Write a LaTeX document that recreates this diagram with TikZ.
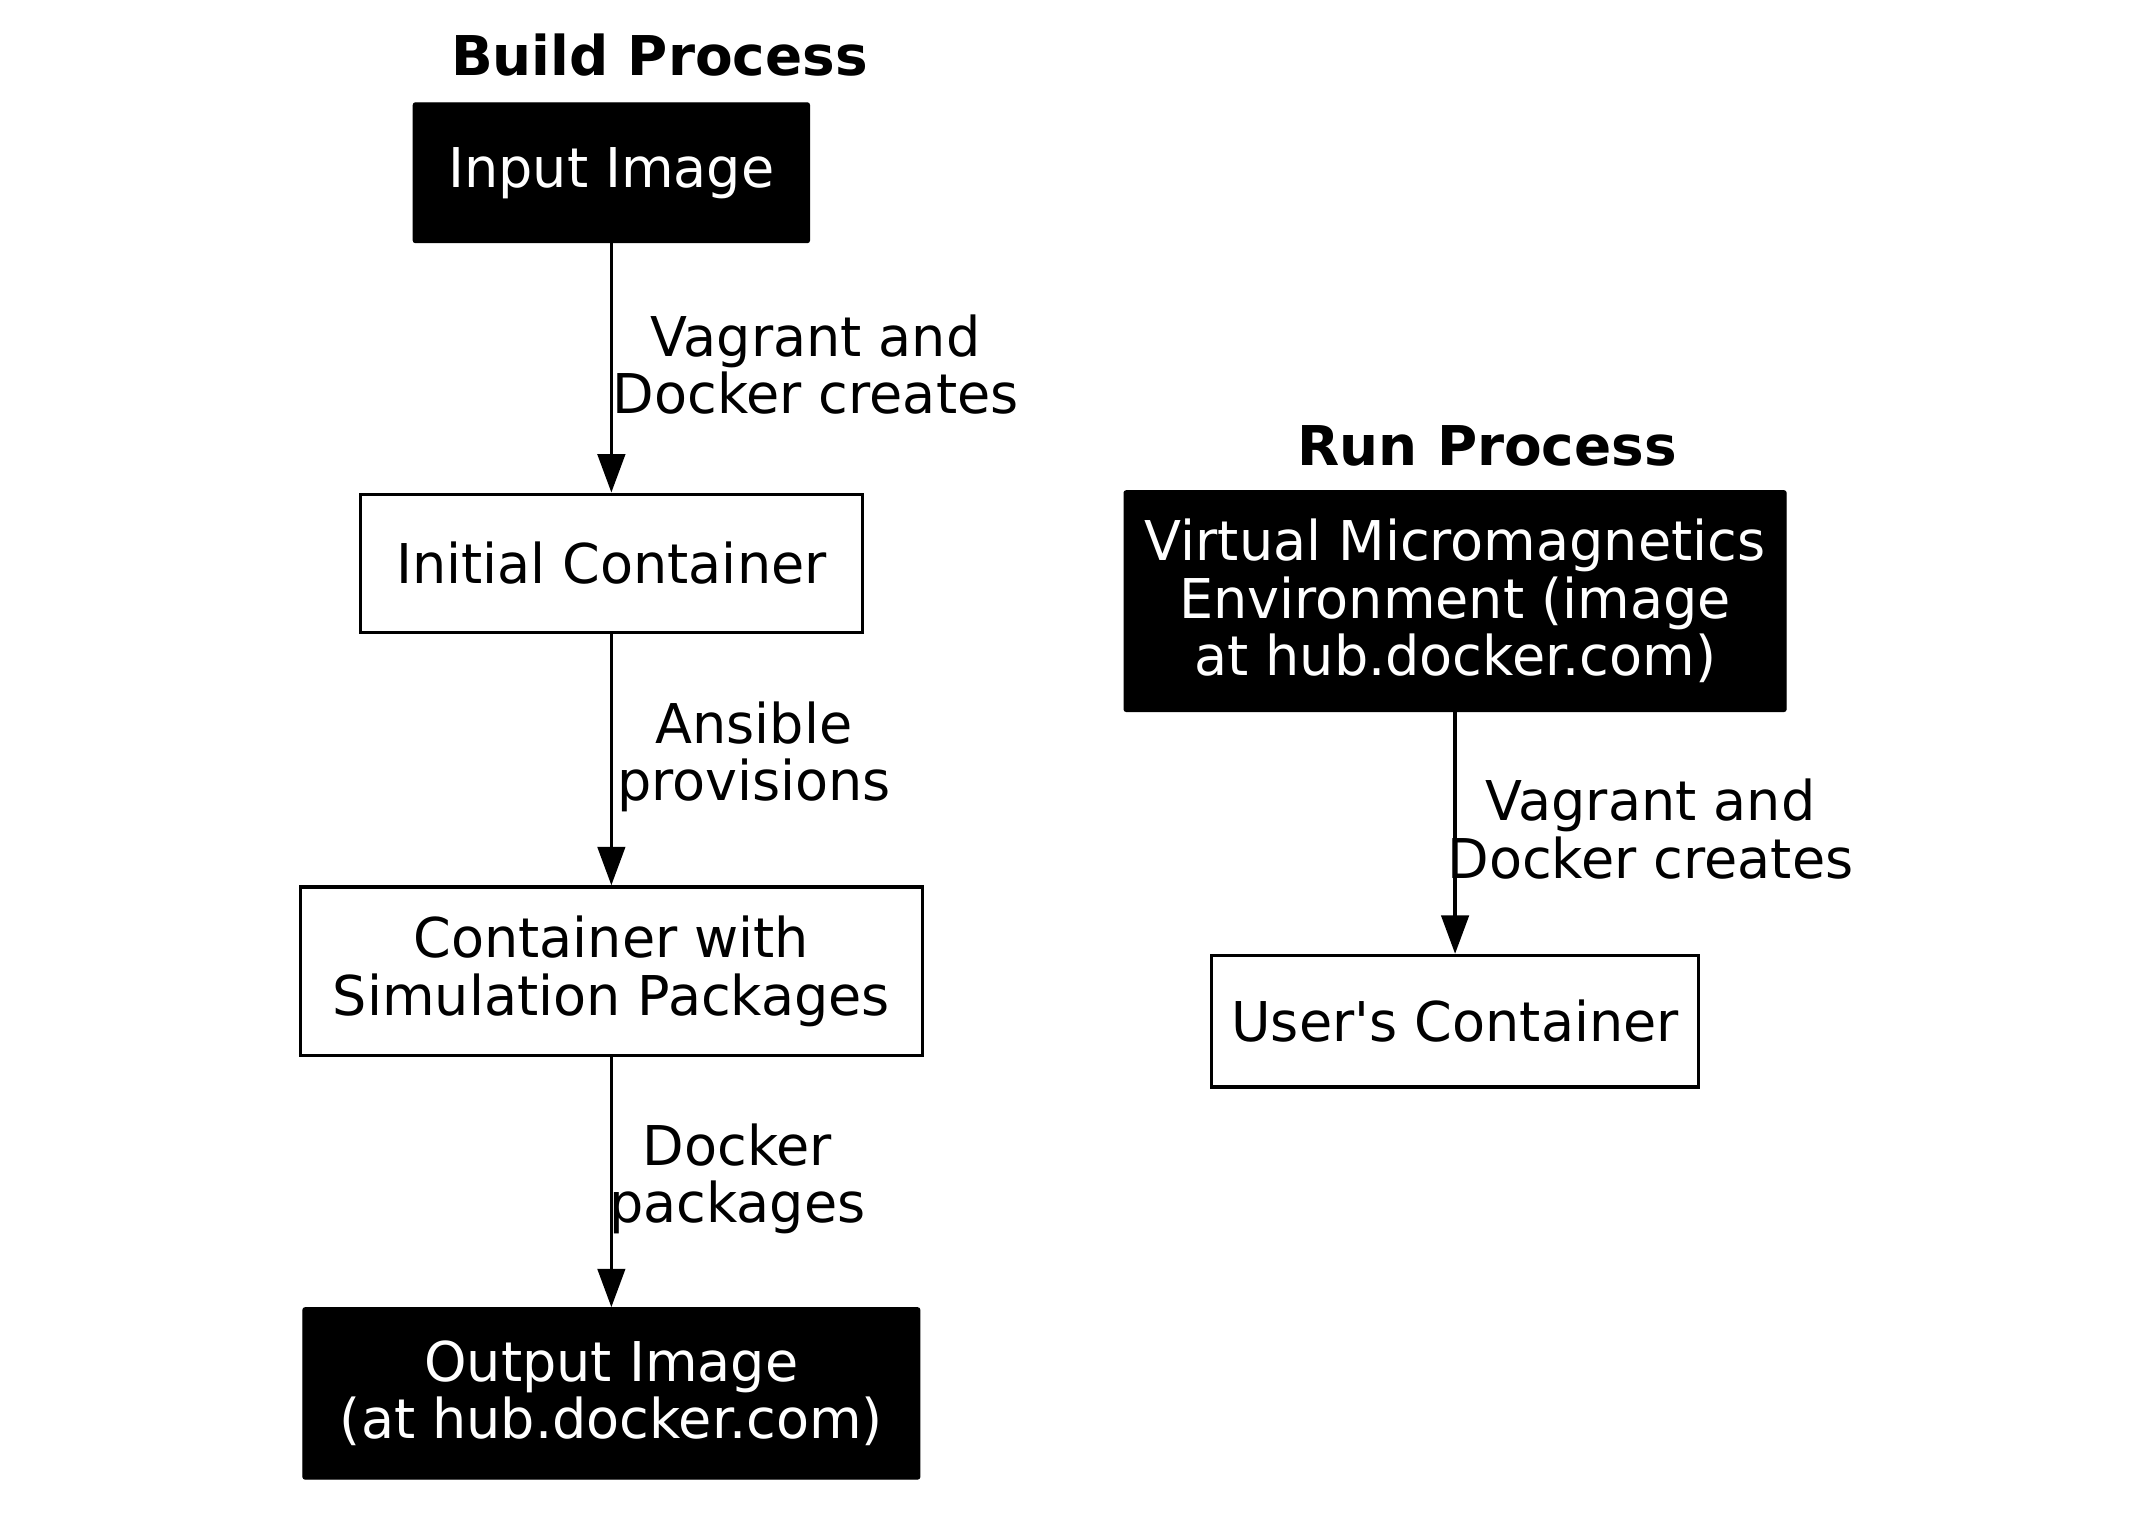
\documentclass[tikz,border=0pt]{standalone}
\usepackage{fontspec}
\setmainfont{DejaVu Sans}
\newfontfamily\lblfont{DejaVu Sans}[FakeStretch=0.985]
\usetikzlibrary{arrows.meta}
\begin{document}
\begin{tikzpicture}[x=1pt,y=1pt,
  every node/.style={font=\lblfont\fontsize{20}{21}\selectfont, align=center, inner sep=0pt},
  title/.style={font=\fontsize{20}{21}\selectfont\bfseries},
  darkbox/.style={fill=black, draw=black, text=white, rounded corners=0.8pt},
  lightbox/.style={draw=black, line width=1.2pt, fill=white},
  lbl/.style={fill=none},
  arr/.style={draw=black, line width=1.2pt, -{Triangle[length=14pt,width=10pt]}}]
\useasboundingbox (0,0) rectangle (783.5,-552.5);
\node[title] (bt) at (240.5,-20) {Build Process};
\node[darkbox, minimum width=144.5pt, minimum height=51pt] (in) at (223,-63) {Input Image};
\node[lightbox, minimum width=183pt, minimum height=50.5pt] (init) at (223,-205.5) {Initial Container};
\node[lightbox, minimum width=227pt, minimum height=61.5pt] (sim) at (223,-354.25) {Container with\\Simulation Packages};
\node[darkbox, minimum width=225pt, minimum height=62.5pt] (out) at (223,-508.25) {Output Image\\(at hub.docker.com)};
\node[lbl] (l1) at (297.5,-133) {Vagrant and\\Docker creates};
\node[lbl] (l2) at (275,-276) {Ansible\\provisions};
\node[lbl] (l3) at (269,-430) {Docker\\packages};
\node[title] (rt) at (542.5,-162.5) {Run Process};
\node[darkbox, minimum width=241.5pt, minimum height=80.5pt] (vme) at (530.75,-219.25) {Virtual Micromagnetics\\Environment (image\\at hub.docker.com)};
\node[lightbox, minimum width=177.5pt, minimum height=48pt] (user) at (530.75,-372.5) {User\textquotesingle s Container};
\node[lbl] (l4) at (602,-302.5) {Vagrant and\\Docker creates};
\draw[arr] (in) -- (init);
\draw[arr] (init) -- (sim);
\draw[arr] (sim) -- (out);
\draw[arr] (vme) -- (user);
\end{tikzpicture}
\end{document}
